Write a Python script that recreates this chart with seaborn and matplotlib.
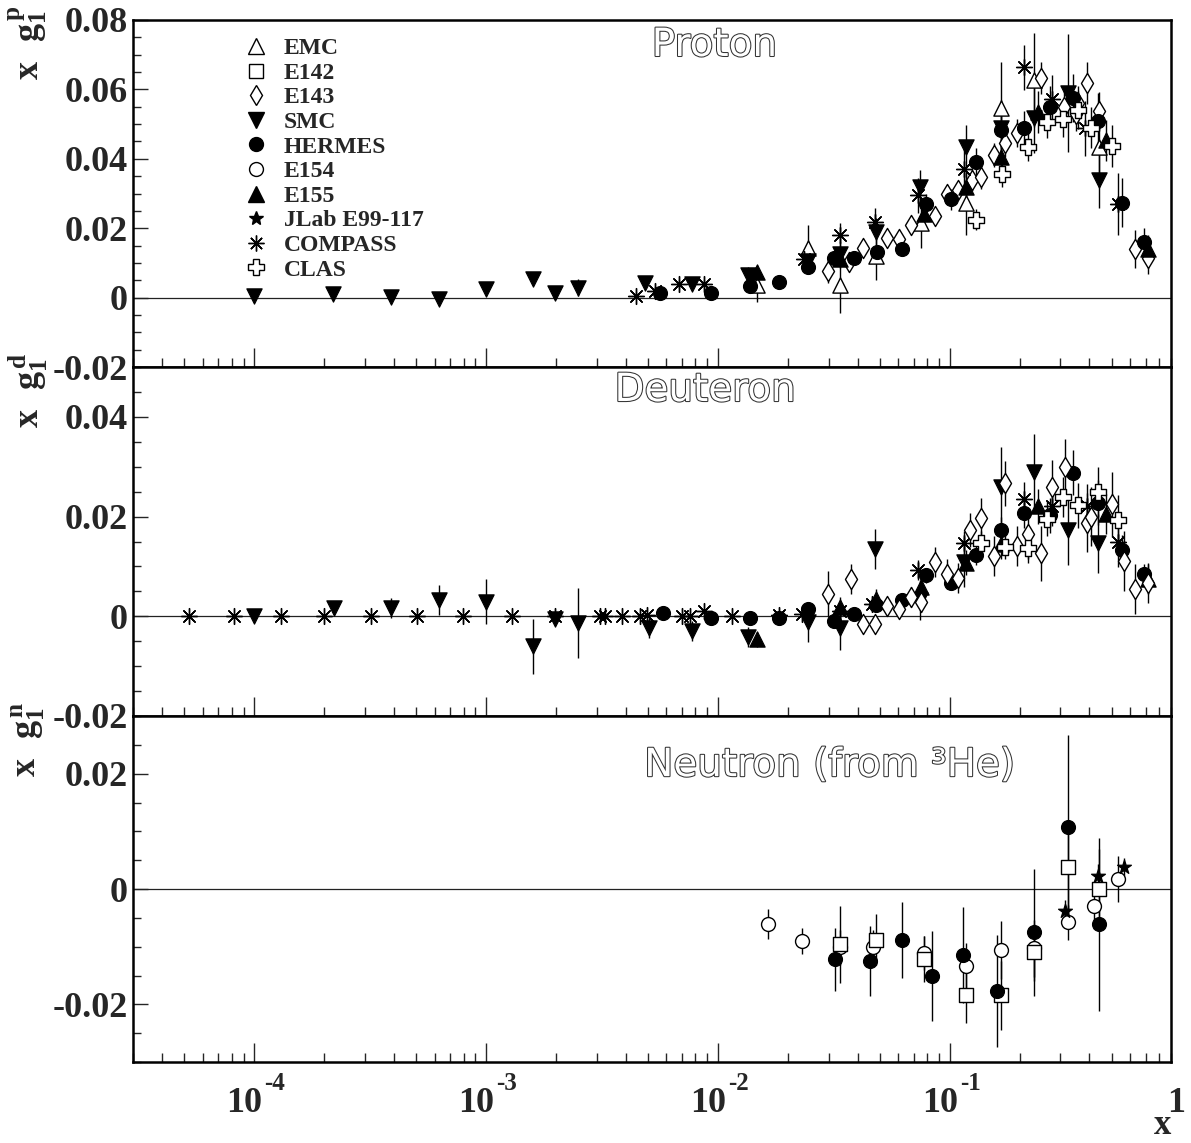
import numpy as np
import matplotlib
matplotlib.use("Agg")
import matplotlib.pyplot as plt
import matplotlib.patheffects as pe
import matplotlib.transforms as mtrans
from matplotlib.lines import Line2D
from matplotlib.ticker import LogLocator, MultipleLocator, FuncFormatter, NullFormatter
import seaborn as sns

# ---------------- proton ----------------
p_emc_x = [0.0147, 0.0244, 0.0337, 0.048, 0.0755, 0.118, 0.166, 0.230, 0.440]
p_emc_y = [0.0035, 0.0142, 0.0035, 0.0120, 0.0214, 0.0274, 0.0546, 0.0627, 0.0433]
p_emc_e = [0.0048, 0.0066, 0.0080, 0.0070, 0.0072, 0.0095, 0.0133, 0.0135, 0.0100]

p_e143_x = [0.0299, 0.0368, 0.0423, 0.0536, 0.0607, 0.068, 0.0863, 0.0972, 0.108, 0.1245, 0.137,
            0.155, 0.173, 0.1945, 0.2466, 0.31, 0.35, 0.356, 0.391, 0.44, 0.63, 0.713]
p_e143_y = [0.0076, 0.0102, 0.0142, 0.0173, 0.0168, 0.0208, 0.0234, 0.0300, 0.0310, 0.0338, 0.0347,
            0.0410, 0.0445, 0.0474, 0.0633, 0.0550, 0.0530, 0.0560, 0.0618, 0.0537, 0.0139, 0.0113]
p_e143_e = [0.0033, 0.0025, 0.0020, 0.0020, 0.0020, 0.0022, 0.0025, 0.0025, 0.0025, 0.0030, 0.0035,
            0.0035, 0.0040, 0.0040, 0.0045, 0.0050, 0.0050, 0.0050, 0.0060, 0.0055, 0.0055, 0.0045]

p_smc_x = [1.0e-4, 2.19e-4, 3.9e-4, 6.26e-4, 1.0e-3, 1.6e-3, 1.98e-3, 2.48e-3, 4.85e-3, 7.76e-3,
           1.35e-2, 2.44e-2, 3.37e-2, 4.8e-2, 7.43e-2, 0.118, 0.166, 0.230, 0.324, 0.440]
p_smc_y = [0.0005, 0.0010, 0.0003, -0.0003, 0.0024, 0.0055, 0.0014, 0.0029, 0.0043, 0.0040,
           0.0064, 0.0105, 0.0125, 0.0190, 0.0318, 0.0433, 0.0490, 0.0517, 0.0589, 0.0338]
p_smc_e = [0.0006, 0.0007, 0.0007, 0.0008, 0.0010, 0.0015, 0.0012, 0.0025, 0.0015, 0.0015,
           0.0025, 0.0030, 0.0035, 0.0040, 0.0050, 0.0065, 0.0080, 0.0100, 0.0170, 0.0080]

p_hermes_x = [5.65e-3, 9.37e-3, 1.38e-2, 1.84e-2, 2.44e-2, 3.17e-2, 3.88e-2, 4.86e-2, 6.22e-2, 7.89e-2,
              0.1016, 0.1295, 0.166, 0.210, 0.270, 0.340, 0.438, 0.551, 0.685]
p_hermes_y = [0.0013, 0.0013, 0.0032, 0.0046, 0.0087, 0.0115, 0.0113, 0.0130, 0.0139, 0.0269,
              0.0283, 0.0390, 0.0482, 0.0488, 0.0549, 0.0575, 0.0510, 0.0274, 0.0160]
p_hermes_e = [0.0008, 0.0008, 0.0010, 0.0010, 0.0015, 0.0015, 0.0015, 0.0020, 0.0020, 0.0030,
              0.0030, 0.0040, 0.0050, 0.0050, 0.0060, 0.0070, 0.0080, 0.0070, 0.0040]

p_e155_x = [0.0147, 0.0337, 0.0774, 0.118, 0.166, 0.2394, 0.474, 0.713]
p_e155_y = [0.0073, 0.0110, 0.0242, 0.0318, 0.0404, 0.0534, 0.0453, 0.0140]
p_e155_e = [0.0020, 0.0025, 0.0030, 0.0040, 0.0050, 0.0060, 0.0060, 0.0040]

p_compass_x = [4.45e-3, 5.33e-3, 6.82e-3, 8.74e-3, 2.35e-2, 3.37e-2, 4.76e-2, 7.29e-2, 0.1156,
               0.210, 0.2766, 0.382, 0.532]
p_compass_y = [0.0005, 0.0020, 0.0040, 0.0040, 0.0110, 0.0180, 0.0218, 0.0295, 0.0370,
               0.0664, 0.0572, 0.0488, 0.0270]
p_compass_e = [0.0010, 0.0010, 0.0012, 0.0012, 0.0030, 0.0035, 0.0040, 0.0050, 0.0060,
               0.0065, 0.0070, 0.0080, 0.0090]

p_clas_x = [0.1295, 0.1675, 0.217, 0.262, 0.307, 0.356, 0.407, 0.499]
p_clas_y = [0.0225, 0.0355, 0.0433, 0.0505, 0.0514, 0.0540, 0.0490, 0.0436]
p_clas_e = [0.0030, 0.0035, 0.0040, 0.0045, 0.0050, 0.0055, 0.0060, 0.0060]

# ---------------- deuteron ----------------
d_compass_x = [5.22e-5, 8.16e-5, 1.30e-4, 2.0e-4, 3.2e-4, 5.03e-4, 7.94e-4, 1.30e-3, 1.98e-3,
               3.09e-3, 3.27e-3, 3.84e-3, 4.59e-3, 4.92e-3, 7.0e-3, 7.6e-3, 8.74e-3, 1.15e-2,
               1.84e-2, 2.31e-2, 3.37e-2, 4.62e-2, 7.29e-2, 0.1156, 0.210, 0.2766, 0.391, 0.532]
d_compass_y = [0.0000, 0.0000, 0.0000, 0.0000, 0.0000, 0.0000, 0.0000, 0.0000, 0.0001,
               0.0000, 0.0001, 0.0001, 0.0001, 0.0002, 0.0001, 0.0001, 0.0011, 0.0000,
               0.0003, 0.0005, 0.0011, 0.0025, 0.0092, 0.0147, 0.0235, 0.0221, 0.0221, 0.0149]
d_compass_e = [0.0002, 0.0002, 0.0002, 0.0002, 0.0002, 0.0002, 0.0002, 0.0003, 0.0003,
               0.0003, 0.0003, 0.0003, 0.0003, 0.0003, 0.0004, 0.0004, 0.0004, 0.0005,
               0.0006, 0.0007, 0.0009, 0.0012, 0.0020, 0.0025, 0.0035, 0.0040, 0.0045, 0.0050]

d_smc_x = [1.0e-4, 2.21e-4, 3.9e-4, 6.26e-4, 1.0e-3, 1.6e-3, 1.98e-3, 2.48e-3, 5.05e-3, 7.76e-3,
           1.35e-2, 2.44e-2, 3.37e-2, 4.76e-2, 7.43e-2, 0.1156, 0.166, 0.230, 0.324, 0.438]
d_smc_y = [0.0000, 0.0016, 0.0016, 0.0032, 0.0029, -0.0060, -0.0005, -0.0013, -0.0023, -0.0029,
           -0.0042, -0.0012, -0.0023, 0.0135, 0.0032, 0.0109, 0.0259, 0.0290, 0.0173, 0.0146]
d_smc_e = [0.0005, 0.0008, 0.0020, 0.0030, 0.0045, 0.0055, 0.0010, 0.0070, 0.0020, 0.0020,
           0.0020, 0.0040, 0.0045, 0.0040, 0.0040, 0.0050, 0.0080, 0.0075, 0.0070, 0.0060]

d_hermes_x = [5.82e-3, 9.37e-3, 1.37e-2, 1.84e-2, 2.44e-2, 3.17e-2, 3.88e-2, 4.81e-2, 6.22e-2, 7.89e-2,
              0.1016, 0.1295, 0.166, 0.210, 0.270, 0.340, 0.438, 0.551, 0.685]
d_hermes_y = [0.0007, -0.0003, -0.0003, -0.0003, 0.0015, -0.0010, 0.0005, 0.0023, 0.0032, 0.0082,
              0.0067, 0.0123, 0.0174, 0.0208, 0.0203, 0.0288, 0.0228, 0.0133, 0.0084]
d_hermes_e = [0.0005, 0.0005, 0.0006, 0.0008, 0.0008, 0.0010, 0.0010, 0.0012, 0.0012, 0.0015,
              0.0015, 0.0020, 0.0025, 0.0030, 0.0035, 0.0045, 0.0045, 0.0030, 0.0020]

d_e155_x = [1.47e-2, 3.37e-2, 4.81e-2, 7.55e-2, 0.118, 0.166, 0.2394, 0.474, 0.713]
d_e155_y = [-0.0046, 0.0018, 0.0035, 0.0058, 0.0107, 0.0145, 0.0221, 0.0206, 0.0074]
d_e155_e = [0.0015, 0.0020, 0.0020, 0.0020, 0.0025, 0.0030, 0.0035, 0.0040, 0.0030]

d_e143_x = [0.0299, 0.0375, 0.0423, 0.0476, 0.0536, 0.0607, 0.068, 0.0755, 0.0863, 0.0972, 0.108,
            0.122, 0.137, 0.155, 0.173, 0.1945, 0.217, 0.2466, 0.2766, 0.313, 0.391, 0.407,
            0.499, 0.565, 0.630, 0.713]
d_e143_y = [0.0045, 0.0075, -0.0015, -0.0015, 0.0021, 0.0015, 0.0038, 0.0029, 0.0109, 0.0084, 0.0076,
            0.0173, 0.0198, 0.0121, 0.0267, 0.0141, 0.0165, 0.0126, 0.0259, 0.0300, 0.0188, 0.0200,
            0.0225, 0.0111, 0.0054, 0.0067]
d_e143_e = [0.0045, 0.0030, 0.0015, 0.0015, 0.0015, 0.0015, 0.0020, 0.0020, 0.0030, 0.0030, 0.0030,
            0.0035, 0.0040, 0.0040, 0.0045, 0.0040, 0.0050, 0.0055, 0.0055, 0.0055, 0.0060, 0.0060,
            0.0065, 0.0060, 0.0050, 0.0040]

d_clas_x = [0.137, 0.173, 0.217, 0.262, 0.307, 0.356, 0.438, 0.532]
d_clas_y = [0.0147, 0.0139, 0.0136, 0.0196, 0.0239, 0.0223, 0.0250, 0.0193]
d_clas_e = [0.0025, 0.0025, 0.0030, 0.0035, 0.0040, 0.0045, 0.0050, 0.0050]

# ---------------- neutron (from 3He) ----------------
n_e154_x = [0.0165, 0.0231, 0.0337, 0.0468, 0.0774, 0.118, 0.166, 0.230, 0.324, 0.417, 0.532]
n_e154_y = [-0.0060, -0.0090, -0.0101, -0.0101, -0.0111, -0.0134, -0.0106, -0.0103, -0.0058, -0.0030, 0.0017]
n_e154_e = [0.0026, 0.0023, 0.0030, 0.0030, 0.0030, 0.0040, 0.0050, 0.0050, 0.0030, 0.0040, 0.0040]

n_e142_x = [0.0337, 0.048, 0.0774, 0.118, 0.166, 0.230, 0.324, 0.440]
n_e142_y = [-0.0096, -0.0088, -0.0122, -0.0183, -0.0184, -0.0110, 0.0038, 0.0000]
n_e142_e = [0.0067, 0.0044, 0.0040, 0.0050, 0.0060, 0.0050, 0.0080, 0.0070]

n_hermes_x = [0.0319, 0.0453, 0.0622, 0.0838, 0.1135, 0.160, 0.230, 0.324, 0.440]
n_hermes_y = [-0.0122, -0.0125, -0.0089, -0.0151, -0.0115, -0.0177, -0.0075, 0.0107, -0.0061]
n_hermes_e = [0.0055, 0.0060, 0.0066, 0.0078, 0.0083, 0.0097, 0.0110, 0.0160, 0.0150]

n_jlab_x = [0.313, 0.438, 0.565]
n_jlab_y = [-0.0039, 0.0023, 0.0038]
n_jlab_e = [0.0020, 0.0020, 0.0015]

legend_labels = ["EMC", "E142", "E143", "SMC", "HERMES", "E154", "E155", "JLab E99-117", "COMPASS", "CLAS"]
panel_titles = ["Proton", "Deuteron", "Neutron (from \u00b3He)"]
panel_ylabels = [r"$\mathrm{x\ \ g_1^{\,p}}$", r"$\mathrm{x\ \ g_1^{\,d}}$", r"$\mathrm{x\ \ g_1^{\,n}}$"]
panel_ylims = [(-0.02, 0.08), (-0.02, 0.05), (-0.03, 0.03)]
x_decades = [-4, -3, -2, -1]

# marker, size (pt^2), face colour
STYLE = {
    "EMC": ("^", 120, "white"),
    "E142": ("s", 95, "white"),
    "E143": ("d", 105, "white"),
    "SMC": ("v", 120, "black"),
    "HERMES": ("o", 100, "black"),
    "E154": ("o", 100, "white"),
    "E155": ("^", 120, "black"),
    "JLab E99-117": ("*", 110, "black"),
    "COMPASS": ((8, 2, 0), 130, "black"),
    "CLAS": ("P", 120, "white"),
}

panels = [
    [("EMC", p_emc_x, p_emc_y, p_emc_e), ("E143", p_e143_x, p_e143_y, p_e143_e),
     ("SMC", p_smc_x, p_smc_y, p_smc_e), ("HERMES", p_hermes_x, p_hermes_y, p_hermes_e),
     ("E155", p_e155_x, p_e155_y, p_e155_e), ("COMPASS", p_compass_x, p_compass_y, p_compass_e),
     ("CLAS", p_clas_x, p_clas_y, p_clas_e)],
    [("COMPASS", d_compass_x, d_compass_y, d_compass_e), ("SMC", d_smc_x, d_smc_y, d_smc_e),
     ("HERMES", d_hermes_x, d_hermes_y, d_hermes_e), ("E155", d_e155_x, d_e155_y, d_e155_e),
     ("E143", d_e143_x, d_e143_y, d_e143_e), ("CLAS", d_clas_x, d_clas_y, d_clas_e)],
    [("E154", n_e154_x, n_e154_y, n_e154_e), ("E142", n_e142_x, n_e142_y, n_e142_e),
     ("HERMES", n_hermes_x, n_hermes_y, n_hermes_e), ("JLab E99-117", n_jlab_x, n_jlab_y, n_jlab_e)],
]

sns.set_theme(style="ticks")
plt.rcParams["font.family"] = ["Liberation Serif", "DejaVu Serif"]
plt.rcParams["font.weight"] = "bold"
plt.rcParams["mathtext.fontset"] = "custom"
plt.rcParams["mathtext.rm"] = "Liberation Serif:bold"
plt.rcParams["mathtext.it"] = "Liberation Serif:bold"
plt.rcParams["mathtext.bf"] = "Liberation Serif:bold"

W, H = 1191, 1143
fig = plt.figure(figsize=(W / 100, H / 100), dpi=100)
left, right = 133 / W, 1171 / W
edges = [(20, 367), (367, 716), (716, 1062)]


def fmt_y(v, _):
    if abs(v) < 1e-9:
        return "0"
    return f"{v:.2f}"


axes = []
for i, (top, bot) in enumerate(edges):
    ax = fig.add_axes([left, 1 - bot / H, right - left, (bot - top) / H])
    ax.set_xscale("log")
    ax.set_xlim(3e-5, 0.9)
    ax.set_ylim(*panel_ylims[i])
    ax.axhline(0, color="#222222", lw=0.9, zorder=1)

    for name, xs, ys, es in panels[i]:
        m, s, face = STYLE[name]
        ax.errorbar(xs, ys, yerr=es, fmt="none", ecolor="black", elinewidth=1.0, capsize=0, zorder=2)
        if isinstance(m, tuple):
            sns.scatterplot(x=xs, y=ys, ax=ax, marker=m, s=s, color="black",
                            linewidth=1.0, zorder=3, legend=False)
        else:
            sns.scatterplot(x=xs, y=ys, ax=ax, marker=m, s=s, color=face, edgecolor="black",
                            linewidth=0.9 if face == "black" else 1.0, zorder=3, legend=False)

    ax.xaxis.set_major_locator(LogLocator(base=10, numticks=20))
    ax.xaxis.set_minor_locator(LogLocator(base=10, subs=np.arange(2, 10), numticks=100))
    ax.xaxis.set_minor_formatter(NullFormatter())
    ax.yaxis.set_major_locator(MultipleLocator(0.02))
    ax.yaxis.set_minor_locator(MultipleLocator(0.005))
    ax.yaxis.set_major_formatter(FuncFormatter(fmt_y))
    ax.tick_params(axis="x", which="major", direction="in", length=14, width=1.0, top=False,
                   labelbottom=False)
    ax.tick_params(axis="x", which="minor", direction="in", length=6.5, width=1.0, top=False)
    ax.tick_params(axis="y", which="major", direction="in", length=11, width=1.0,
                   labelsize=26, pad=4, right=False)
    ax.tick_params(axis="y", which="minor", direction="in", length=5.5, width=1.0, right=False)
    for lab in ax.get_yticklabels():
        lab.set_fontweight("bold")
    for sp in ax.spines.values():
        sp.set_linewidth(1.8)
        sp.set_color("black")
    ax.set_xlabel("")
    ax.set_ylabel("")
    ax.text(-0.101, 1.042, panel_ylabels[i], transform=ax.transAxes, rotation=90,
            ha="center", va="top", fontsize=26)
    axes.append(ax)

# ROOT-like decade labels: "10" with a high exponent
bax = axes[2]
blend = mtrans.blended_transform_factory(bax.transData, bax.transAxes)
for e in x_decades:
    t10 = mtrans.offset_copy(blend, fig=fig, x=8, y=-50, units="dots")
    tex = mtrans.offset_copy(blend, fig=fig, x=10, y=-28, units="dots")
    bax.text(10.0 ** e, 0, "10", transform=t10, ha="right", va="baseline", fontsize=26)
    bax.text(10.0 ** e, 0, f"-{abs(e)}", transform=tex, ha="left", va="baseline", fontsize=18)
t1 = mtrans.offset_copy(bax.transAxes, fig=fig, x=5, y=-50, units="dots")
bax.text(1.0, 0, "1", transform=t1, ha="center", va="baseline", fontsize=26)
fig.text(1163 / W, 1 - 1142 / H, "x", ha="center", va="bottom", fontsize=25, fontweight="bold")

title_pos = [(0.56, 0.928), (0.551, 0.934), (0.671, 0.858)]
for ax, t, (tx, ty) in zip(axes, panel_titles, title_pos):
    ax.text(tx, ty, t, transform=ax.transAxes, ha="center", va="center", fontsize=28,
            family="DejaVu Sans", fontweight="normal", color="white",
            path_effects=[pe.Stroke(linewidth=1.5, foreground="#333333"), pe.Normal()])

# legend in the proton panel
handles = []
for lab in legend_labels:
    m, s, face = STYLE[lab]
    handles.append(Line2D([], [], ls="none", marker=m, markersize=np.sqrt(s),
                          markerfacecolor=face, markeredgecolor="black", markeredgewidth=1.0,
                          color="black"))
axes[0].legend(handles, legend_labels, loc="upper left", bbox_to_anchor=(0.107, 0.949),
               frameon=False, borderpad=0, borderaxespad=0, handlelength=1.0,
               handletextpad=0.68, labelspacing=0.13, prop={"family": "Liberation Serif",
                                                            "weight": "bold", "size": 17})

fig.savefig("out.png", dpi=100, facecolor="white")
